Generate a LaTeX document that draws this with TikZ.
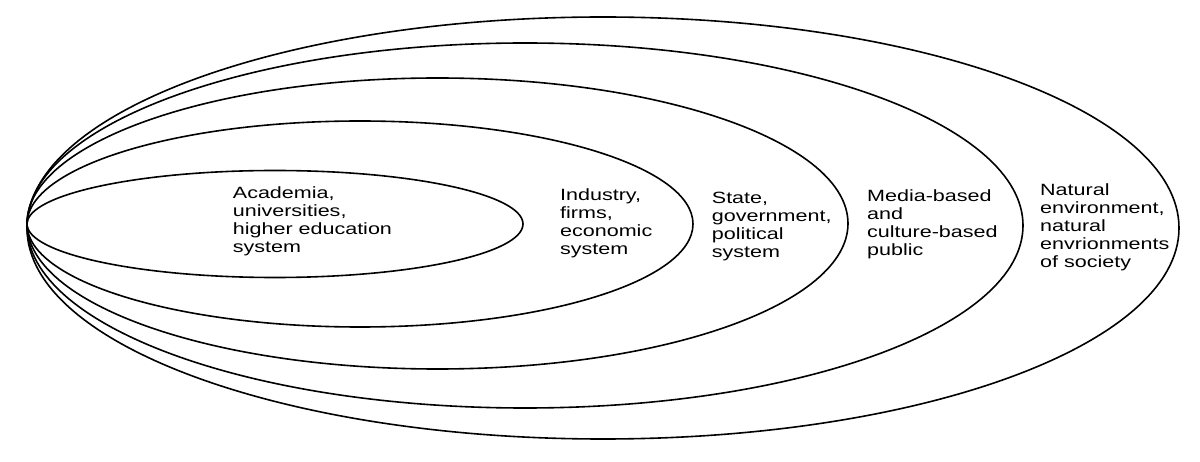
\documentclass[tikz,border=0pt]{standalone}
\usepackage{fontspec}
\newfontfamily\labfont[FakeStretch=1.32]{Liberation Sans}
\begin{document}
\begin{tikzpicture}[x=1pt,y=-1pt,
  ring/.style={line width=1.6pt, black},
  lab/.style={anchor=base west, inner sep=0pt, align=left,
    font=\labfont\fontsize{16.3}{18}\selectfont}]
\useasboundingbox (0,0) rectangle (1200,462);
\draw[ring] (275,224) ellipse [x radius=248pt, y radius=53.5pt];
\draw[ring] (360,224) ellipse [x radius=333pt, y radius=103pt];
\draw[ring] (437.5,223.5) ellipse [x radius=410.5pt, y radius=145.5pt];
\draw[ring] (525,225.5) ellipse [x radius=498pt, y radius=182.5pt];
\draw[ring] (603,228) ellipse [x radius=576pt, y radius=211pt];
\node[lab] (acad) at (232.7,252.5) {Academia,\\universities,\\higher education\\system};
\node[lab] (ind) at (560,255) {Industry,\\firms,\\economic\\system};
\node[lab] (state) at (711.7,257.5) {State,\\government,\\political\\system};
\node[lab] (media) at (867,256) {Media-based\\and\\culture-based\\public};
\node[lab] (nat) at (1040,268) {Natural\\environment,\\natural\\envrionments\\of society};
\end{tikzpicture}
\end{document}
